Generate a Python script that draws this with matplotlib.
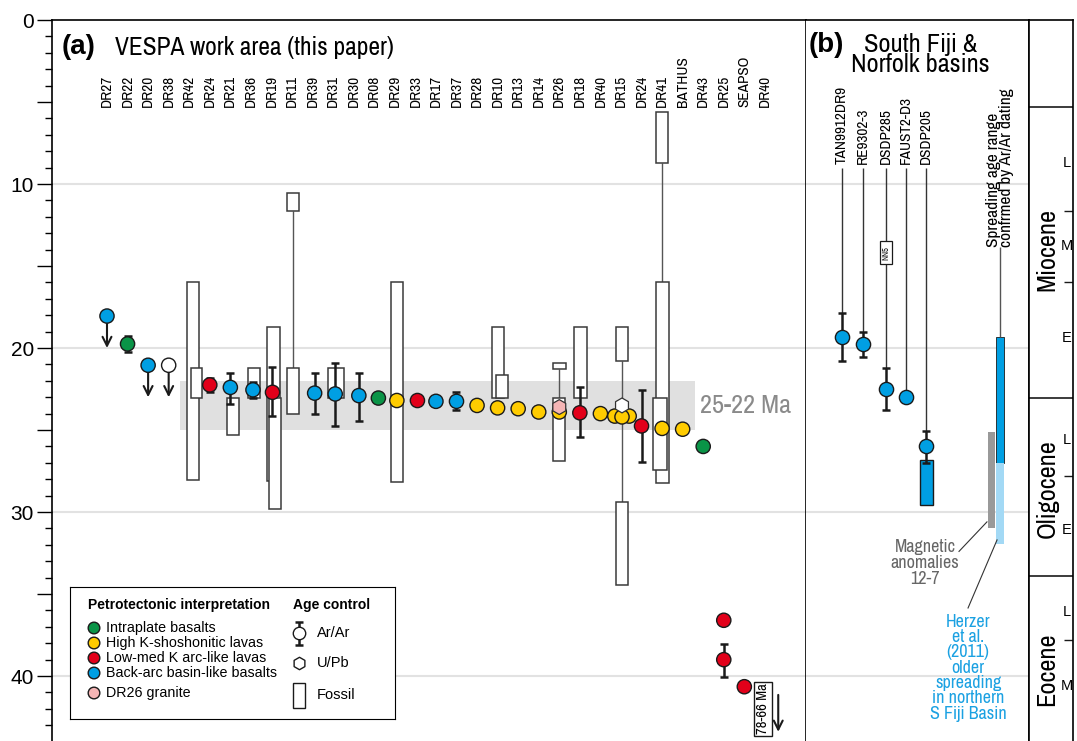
import matplotlib.pyplot as plt
from matplotlib import font_manager
from matplotlib.patches import Rectangle
import numpy as np

# narrow face for labels (reference uses Arial Narrow); fall back to a smaller Liberation Sans
have_narrow = any(f.name == 'Archivo Narrow' for f in font_manager.fontManager.ttflist)
NARROW = ['Archivo Narrow', 'Liberation Sans', 'DejaVu Sans'] if have_narrow else \
    ['Liberation Sans', 'DejaVu Sans']
K = 1.0 if have_narrow else 0.84
plt.rcParams['font.family'] = ['Liberation Sans', 'DejaVu Sans']

GREEN = '#0a9447'
YELLOW = '#ffcc00'
RED = '#e2001a'
BLUE = '#009fe3'
PINK = '#f5b5b5'
LIGHTBLUE = '#a3d9f5'
EDGE = '#3a3a3a'

# ---------------- panel (a) data ----------------
samples = ["DR27", "DR22", "DR20", "DR38", "DR42", "DR24", "DR21", "DR36", "DR19", "DR11",
           "DR39", "DR31", "DR30", "DR08", "DR29", "DR33", "DR17", "DR37", "DR28", "DR10",
           "DR13", "DR14", "DR26", "DR18", "DR40", "DR15", "DR24", "DR41", "BATHUS", "DR43",
           "DR25", "SEAPSO", "DR40"]

pt_x = [0, 1, 2, 3, 5, 6, 7.1, 8.05, 10.1, 11.1, 12.25, 13.2, 14.1, 15.1, 16, 17, 18, 19,
        20, 21, 22, 23, 24, 24.7, 25.4, 25.05, 26, 27, 28, 29, 30, 30, 31]
pt_age = [18.05, 19.75, 21.05, 21.05, 22.25, 22.4, 22.55, 22.7, 22.75, 22.8, 22.9, 23.05,
          23.2, 23.2, 23.25, 23.25, 23.5, 23.65, 23.7, 23.9, 23.9, 23.95, 24.0, 24.15, 24.15,
          24.2, 24.75, 24.9, 24.95, 26.0, 36.6, 39.0, 40.65]
pt_col = [BLUE, GREEN, BLUE, 'white', RED, BLUE, BLUE, RED, BLUE, BLUE, BLUE, GREEN,
          YELLOW, RED, BLUE, BLUE, YELLOW, YELLOW, YELLOW, YELLOW, YELLOW, RED, YELLOW,
          YELLOW, YELLOW, YELLOW, RED, YELLOW, YELLOW, GREEN, RED, RED, RED]

err_x = [1, 5, 6, 7.1, 8.05, 10.1, 11.1, 12.25, 17, 23, 26, 30]
err_lo = [19.25, 21.8, 21.5, 22.1, 21.15, 21.5, 20.9, 21.5, 22.7, 22.4, 22.55, 38.05]
err_hi = [20.25, 22.7, 23.4, 23.05, 24.15, 24.0, 24.75, 24.45, 23.75, 25.4, 26.95, 40.05]

arr_x = [0, 2, 3]
arr_from = [18.05, 21.05, 21.05]
arr_to = [20.0, 23.0, 23.0]

hex_x = [22.0, 25.05]
hex_age = [23.6, 23.5]
hex_col = [PINK, 'white']

box_x = [4.18, 4.35, 6.13, 7.15, 8.1, 8.17, 9.05, 9.05, 11.14, 14.1, 19.02, 19.2,
         22.0, 22.0, 23.03, 25.05, 25.05, 27.0, 27.02, 26.9]
box_top = [16.0, 21.2, 23.05, 21.2, 18.7, 23.05, 10.55, 21.2, 21.2, 16.0, 18.7, 21.65,
           20.9, 23.05, 18.7, 18.7, 29.4, 5.6, 16.0, 23.05]
box_bot = [28.05, 23.05, 25.3, 23.05, 28.1, 29.8, 11.65, 24.0, 23.05, 28.15, 23.05, 23.05,
           21.3, 26.9, 23.05, 20.8, 34.45, 8.7, 28.2, 27.45]
box_w = [0.6, 0.55, 0.6, 0.6, 0.62, 0.6, 0.6, 0.6, 0.78, 0.6, 0.6, 0.6,
         0.63, 0.6, 0.63, 0.6, 0.6, 0.6, 0.63, 0.66]

link_x = [9.05, 22.0, 25.05, 27.0]
link_top = [11.65, 21.3, 20.8, 8.7]
link_bot = [21.2, 23.05, 29.4, 16.0]

# ---------------- panel (b) data ----------------
b_names = ["TAN9912DR9", "RE9302-3", "DSDP285", "FAUST2-D3", "DSDP205"]
b_x = [0, 1, 2.1, 3.05, 4.0]
b_age = [19.3, 19.75, 22.5, 23.0, 26.0]
b_lo = [17.85, 19.05, 21.2, np.nan, 25.05]
b_hi = [20.8, 20.55, 23.8, np.nan, 27.0]
spread_ar = [19.3, 27.0]
spread_old = [27.0, 31.95]
mag_anom = [25.1, 31.0]

# ---------------- time scale ----------------
epochs = ["Miocene", "Oligocene", "Eocene"]
epoch_top = [5.33, 23.03, 33.9]
epoch_mid = [14.0, 28.6, 39.6]
sub_bounds = [11.63, 15.97, 27.82, 37.8]
sub_labels = ["L", "M", "E", "L", "E", "L", "M"]
sub_age = [8.7, 13.8, 19.4, 25.6, 31.1, 36.1, 40.6]

YMAX = 43.96
fig = plt.figure(figsize=(10.77, 7.41), dpi=100)
H = 721 / 741

# ================= panel (a) =================
ax = fig.add_axes([52 / 1077, 0, 754 / 1077, H])
ax.set_xlim(-2.675, 34.0)
ax.set_ylim(YMAX, 0)
for g in [10, 20, 30, 40]:
    ax.axhline(g, color='#e2e2e2', lw=1.5, zorder=0)
ax.add_patch(Rectangle((3.55, 22), 25.05, 3, color='#e0e0e0', lw=0, zorder=1))
ax.text(28.85, 23.5, "25-22 Ma", color='#8a8a8a', fontsize=19 * K, va='center', ha='left',
        family=NARROW)

for x, t, b, w in zip(box_x, box_top, box_bot, box_w):
    ax.add_patch(Rectangle((x - w / 2, t), w, b - t, fc='white', ec=EDGE, lw=1.1, zorder=2))
ax.vlines(link_x, link_top, link_bot, color='#555555', lw=1.0, zorder=1.9)

ax.errorbar(err_x, [(l + h) / 2 for l, h in zip(err_lo, err_hi)],
            yerr=[(h - l) / 2 for l, h in zip(err_lo, err_hi)], fmt='none',
            ecolor='#1a1a1a', elinewidth=1.8, capsize=3, capthick=1.8, zorder=3)
for x, a, b in zip(arr_x, arr_from, arr_to):
    ax.annotate('', xy=(x, b), xytext=(x, a),
                arrowprops=dict(arrowstyle='->', lw=1.5, color='#1a1a1a',
                                mutation_scale=16, shrinkA=0, shrinkB=0), zorder=3)
ax.scatter(pt_x, pt_age, s=105, c=pt_col, edgecolors='#1a1a1a', linewidths=1, zorder=4)
ax.scatter(hex_x, hex_age, s=115, marker='h', c=hex_col, edgecolors='#333333',
           linewidths=0.9, zorder=5)

for i, name in enumerate(samples):
    ax.text(i, 5.3, name, rotation=90, ha='center', va='bottom', fontsize=11 * K,
            family=NARROW)

ax.text(31.9, 40.45, "78-66 Ma", rotation=90, ha='center', va='top', fontsize=10.5 * K,
        family=NARROW, bbox=dict(boxstyle='square,pad=0.12', fc='white', ec='#1a1a1a', lw=1))
ax.annotate('', xy=(32.65, 43.4), xytext=(32.65, 41.15),
            arrowprops=dict(arrowstyle='->', lw=1.5, color='#1a1a1a',
                            mutation_scale=16, shrinkA=0, shrinkB=0))

ax.text(0.013, 0.962, "(a)", transform=ax.transAxes, fontsize=20, fontweight='bold',
        va='center')
ax.text(0.083, 0.962, "VESPA work area (this paper)", transform=ax.transAxes,
        fontsize=18.3 * K, va='center', family=NARROW)

ax.set_yticks(np.arange(0, 44, 5))
ax.set_yticklabels(['0', '', '10', '', '20', '', '30', '', '40'], fontsize=15)
ax.set_yticks(np.arange(0, 44, 1), minor=True)
ax.tick_params(axis='y', which='major', length=11, width=1, pad=2)
ax.tick_params(axis='y', which='minor', length=5, width=1)
ax.set_xticks([])
ax.spines['bottom'].set_visible(False)
for s in ['left', 'top', 'right']:
    ax.spines[s].set_linewidth(1.2)

# ================= legend =================
lg = fig.add_axes([70 / 1077, 1 - 719 / 741, 325 / 1077, 132 / 741])
lg.set_xlim(70, 395)
lg.set_ylim(719, 587)
lg.set_xticks([])
lg.set_yticks([])
lg.set_zorder(10)
lg.text(88, 605, "Petrotectonic interpretation", fontweight='bold', fontsize=10, va='center')
lg.text(293, 605, "Age control", fontweight='bold', fontsize=10, va='center')
leg_names = ["Intraplate basalts", "High K-shoshonitic lavas", "Low-med K arc-like lavas",
             "Back-arc basin-like basalts", "DR26 granite"]
leg_cols = [GREEN, YELLOW, RED, BLUE, PINK]
leg_y = [628, 643, 658, 673, 693]
lg.scatter([94] * 5, leg_y, s=70, c=leg_cols, edgecolors='#1a1a1a', linewidths=1, zorder=3)
for yy, nm in zip(leg_y, leg_names):
    lg.text(106, yy, nm, fontsize=10.3, va='center')
lg.errorbar([299], [633], yerr=[[11], [12]], fmt='none', ecolor='#1a1a1a', elinewidth=1.8,
            capsize=3, capthick=1.8)
lg.scatter([299], [633], s=80, c='white', edgecolors='#1a1a1a', linewidths=1, zorder=3)
lg.scatter([299], [663], s=80, marker='h', c='white', edgecolors='#1a1a1a', linewidths=1)
lg.add_patch(Rectangle((293, 683), 12, 25, fc='white', ec='#1a1a1a', lw=1))
for yy, nm in zip([633, 663, 695], ["Ar/Ar", "U/Pb", "Fossil"]):
    lg.text(317, yy, nm, fontsize=10.5, va='center')

# ================= panel (b) =================
bx = fig.add_axes([806 / 1077, 0, 223 / 1077, H])
bx.set_xlim(-1.71, 8.9)
bx.set_ylim(YMAX, 0)
for g in [10, 20, 30, 40]:
    bx.axhline(g, color='#e2e2e2', lw=1.5, zorder=0)
bx.set_xticks([])
bx.set_yticks([])
bx.spines['bottom'].set_visible(False)
bx.spines['left'].set_visible(False)
for s in ['top', 'right']:
    bx.spines[s].set_linewidth(1.2)

for x, nm, a, lo in zip(b_x, b_names, b_age, b_lo):
    bx.text(x, 8.75, nm, rotation=90, ha='center', va='bottom', fontsize=11 * K,
            family=NARROW)
    end = lo if not np.isnan(lo) else a
    bx.vlines(x, 9.0, end, color='#333333', lw=1.0, zorder=1)
bx.add_patch(Rectangle((2.1 - 0.28, 13.5), 0.56, 1.4, fc='white', ec='#1a1a1a', lw=0.9, zorder=2))
bx.text(2.1, 14.2, "NN5", rotation=90, ha='center', va='center', fontsize=6, zorder=3,
        family=NARROW)
bx.add_patch(Rectangle((4.02 - 0.31, 26.8), 0.62, 2.8, fc=BLUE, ec='#1a1a1a', lw=1, zorder=2))
m = ~np.isnan(b_lo)
bx.errorbar(np.array(b_x)[m], ((np.array(b_lo) + np.array(b_hi)) / 2)[m],
            yerr=((np.array(b_hi) - np.array(b_lo)) / 2)[m], fmt='none', ecolor='#1a1a1a',
            elinewidth=1.8, capsize=3, capthick=1.8, zorder=3)
bx.scatter(b_x, b_age, s=105, c=BLUE, edgecolors='#1a1a1a', linewidths=1, zorder=4)

bx.add_patch(Rectangle((7.12 - 0.17, mag_anom[0]), 0.34, mag_anom[1] - mag_anom[0],
                       color='#999999', lw=0, zorder=2))
bx.add_patch(Rectangle((7.52 - 0.19, spread_ar[0]), 0.38, spread_ar[1] - spread_ar[0],
                       fc=BLUE, ec='#1a1a1a', lw=0.6, zorder=2))
bx.add_patch(Rectangle((7.52 - 0.19, spread_old[0]), 0.38, spread_old[1] - spread_old[0],
                       color=LIGHTBLUE, lw=0, zorder=2))
bx.vlines(7.52, 13.85, spread_ar[0], color='#555555', lw=1.0)
bx.text(7.52, 13.85, "Spreading age range\nconfrmed by Ar/Ar dating", rotation=90,
        ha='center', va='bottom', fontsize=12.5 * K, multialignment='left', linespacing=0.9,
        family=NARROW)
bx.text(3.95, 33.1, "Magnetic\nanomalies\n12-7", color='#666666', ha='center', va='center',
        fontsize=13 * K, linespacing=1.0, family=NARROW)
bx.plot([5.57, 6.9], [32.4, 30.6], color='#333333', lw=0.8)
bx.text(6.0, 36.2, "Herzer\net al.\n(2011)\nolder\nspreading\nin northern\nS Fiji Basin",
        color='#1ba1e2', ha='center', va='top', fontsize=13 * K, linespacing=0.95,
        family=NARROW)
bx.plot([6.0, 7.38], [35.85, 31.7], color='#333333', lw=0.8)

bx.text(-1.6, 1.5, "(b)", fontsize=20, fontweight='bold', va='center')
bx.text(3.75, 2.1, "South Fiji &\nNorfolk basins", fontsize=19 * K, ha='center',
        va='center', linespacing=0.8, family=NARROW)

# ================= time scale =================
ex = fig.add_axes([1029 / 1077, 0, 44 / 1077, H])
ex.set_xlim(0, 1)
ex.set_ylim(YMAX, 0)
ex.set_xticks([])
ex.set_yticks([])
ex.spines['bottom'].set_visible(False)
for s in ['left', 'top', 'right']:
    ex.spines[s].set_linewidth(1.2)
ex.hlines(epoch_top, 0, 1, color='#1a1a1a', lw=1.2)
ex.hlines(sub_bounds, 0.8, 1, color='#1a1a1a', lw=1.0)
for nm, mid in zip(epochs, epoch_mid):
    ex.text(0.41, mid, nm, rotation=90, ha='center', va='center', fontsize=19 * K,
            family=NARROW)
for lb, a in zip(sub_labels, sub_age):
    ex.text(0.86, a, lb, ha='center', va='center', fontsize=10.5)

fig.savefig('out.png', dpi=100)
